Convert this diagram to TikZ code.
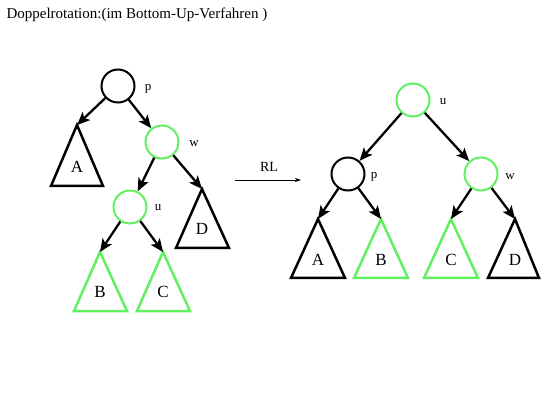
\documentclass[tikz,border=0pt]{standalone}
\usepackage{fontspec}
\setmainfont{Liberation Serif}
\usetikzlibrary{arrows.meta}
\definecolor{lgreen}{RGB}{96,240,96}
\begin{document}
\begin{tikzpicture}[x=1pt,y=-1pt,
  knot/.style={circle,draw,line width=2pt,minimum size=33pt,inner sep=0pt},
  gknot/.style={knot,draw=lgreen},
  tri/.style={draw,line width=2.5pt,line join=miter},
  gtri/.style={tri,draw=lgreen},
  edge/.style={line width=2.3pt,-{Stealth[length=13pt,width=11pt,inset=3pt]}},
  big/.style={font=\fontsize{17}{17}\selectfont},
  small/.style={font=\fontsize{13}{13}\selectfont}]
\useasboundingbox (0,0) rectangle (555,417);
\node[anchor=west,font=\fontsize{15}{15}\selectfont] (title) at (3,15) {Doppelrotation:(im Bottom-Up-Verfahren )};
% left tree
\node[knot] (p1) at (118,86) {};
\node[small] (lp1) at (148,89) {p};
\node[gknot] (w1) at (162,142) {};
\node[small] (lw1) at (194,144) {w};
\node[gknot] (u1) at (130,207) {};
\node[small] (lu1) at (158,208) {u};
\coordinate (A1) at (77,125);
\coordinate (D1) at (202,189);
\coordinate (B1) at (100,252);
\coordinate (C1) at (163,252);
\draw[tri] (A1) -- (51,186) -- (103,186) -- cycle;
\draw[tri] (D1) -- (176,248) -- (229,248) -- cycle;
\draw[gtri] (B1) -- (74,311) -- (127,311) -- cycle;
\draw[gtri] (C1) -- (137,311) -- (190,311) -- cycle;
\node[big] (tA1) at (77,167) {A};
\node[big] (tD1) at (202,229) {D};
\node[big] (tB1) at (100,292) {B};
\node[big] (tC1) at (163,292) {C};
\draw[edge] (p1) -- (A1);
\draw[edge] (p1) -- (w1);
\draw[edge] (w1) -- (u1);
\draw[edge] (w1) -- (D1);
\draw[edge] (u1) -- (B1);
\draw[edge] (u1) -- (C1);
% arrow RL
\coordinate (r0) at (235,180);
\coordinate (r1) at (301,180);
\draw[line width=0.8pt,-{Stealth[length=6pt,width=4pt]}] (r0) -- (r1);
\node[font=\fontsize{14}{14}\selectfont] (rl) at (269,167) {RL};
% right tree
\node[gknot] (u2) at (413,100) {};
\node[small] (lu2) at (443,102) {u};
\node[knot] (p2) at (348,174) {};
\node[small] (lp2) at (374,177) {p};
\node[gknot] (w2) at (481,174) {};
\node[small] (lw2) at (510,177) {w};
\coordinate (A2) at (318,219);
\coordinate (B2) at (381,219);
\coordinate (C2) at (451,219);
\coordinate (D2) at (515,219);
\draw[tri] (A2) -- (291,278) -- (345,278) -- cycle;
\draw[gtri] (B2) -- (354,278) -- (408,278) -- cycle;
\draw[gtri] (C2) -- (424,278) -- (478,278) -- cycle;
\draw[tri] (D2) -- (488,278) -- (539,278) -- cycle;
\node[big] (tA2) at (318,260) {A};
\node[big] (tB2) at (381,260) {B};
\node[big] (tC2) at (451,260) {C};
\node[big] (tD2) at (515,260) {D};
\draw[edge] (u2) -- (p2);
\draw[edge] (u2) -- (w2);
\draw[edge] (p2) -- (A2);
\draw[edge] (p2) -- (B2);
\draw[edge] (w2) -- (C2);
\draw[edge] (w2) -- (D2);
\end{tikzpicture}
\end{document}
